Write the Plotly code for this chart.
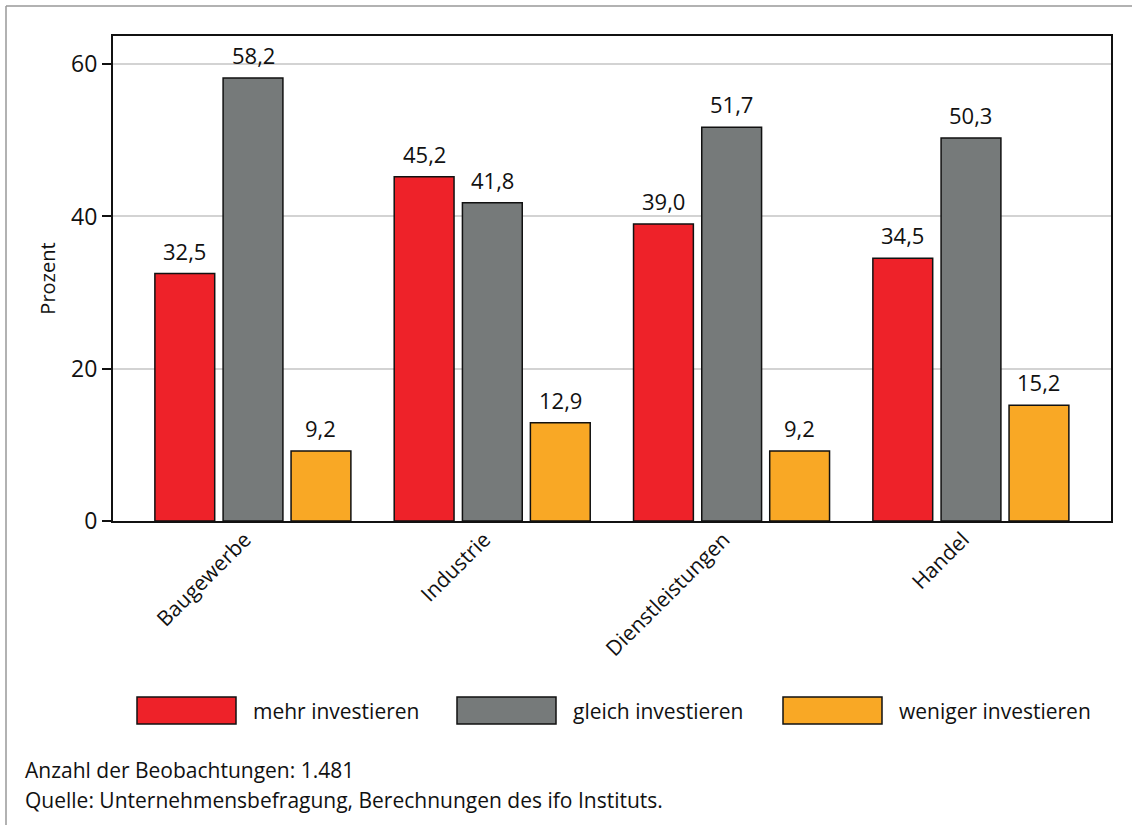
import plotly.graph_objects as go

categories = ["Baugewerbe", "Industrie", "Dienstleistungen", "Handel"]
series_names = ["mehr investieren", "gleich investieren", "weniger investieren"]
mehr = [32.5, 45.2, 39.0, 34.5]
gleich = [58.2, 41.8, 51.7, 50.3]
weniger = [9.2, 12.9, 9.2, 15.2]
y_ticks = [0, 20, 40, 60]
y_title = "Prozent"
notes = ["Anzahl der Beobachtungen: 1.481",
         "Quelle: Unternehmensbefragung, Berechnungen des ifo Instituts."]

colors = ["#EE2229", "#767A7A", "#F9A825"]
offsets = [-0.41, -0.125, 0.159]
BAR_W = 0.25
FONT = "Open Sans"
TXT = "#111111"

W, H = 1132, 825
L, R, T, B = 113, 21, 36, 304

fig = go.Figure()
xs = list(range(len(categories)))
annotations = []
for name, vals, col, off in zip(series_names, [mehr, gleich, weniger], colors, offsets):
    fig.add_trace(go.Bar(
        x=xs, y=vals, name=name, width=BAR_W, offset=off,
        marker=dict(color=col, line=dict(color=TXT, width=1.5)),
        showlegend=False, hoverinfo="x+y",
    ))
    for xi, v in zip(xs, vals):
        annotations.append(dict(x=xi + off + BAR_W / 2, y=v, xref="x", yref="y",
                                text=f"{v:.1f}".replace(".", ","), showarrow=False,
                                yanchor="bottom", yshift=6,
                                font=dict(family=FONT, size=22, color=TXT)))


def to_paper_x(p):
    return (p - L) / (W - L - R)


def to_paper_y(p):
    return (H - B - p) / (H - T - B)


shapes = []
# outer frame lines (top and left)
shapes.append(dict(type="line", xref="paper", yref="paper", layer="above",
                   x0=to_paper_x(6), x1=to_paper_x(W + 2),
                   y0=to_paper_y(6), y1=to_paper_y(6),
                   line=dict(color="#999999", width=1.5)))
shapes.append(dict(type="line", xref="paper", yref="paper", layer="above",
                   x0=to_paper_x(6), x1=to_paper_x(6),
                   y0=to_paper_y(6), y1=to_paper_y(H + 2),
                   line=dict(color="#999999", width=1.5)))

# legend
box_x = [137, 457, 783]
for bx, col, name in zip(box_x, colors, series_names):
    shapes.append(dict(type="rect", xref="paper", yref="paper",
                       x0=to_paper_x(bx), x1=to_paper_x(bx + 99),
                       y0=to_paper_y(724), y1=to_paper_y(697),
                       fillcolor=col, line=dict(color=TXT, width=1.5)))
    annotations.append(dict(xref="paper", yref="paper", x=to_paper_x(bx + 114),
                            y=to_paper_y(711), text=name, showarrow=False,
                            xanchor="left", yanchor="middle",
                            font=dict(family=FONT, size=21, color=TXT)))

for i, t in enumerate(notes):
    annotations.append(dict(xref="paper", yref="paper", x=to_paper_x(23),
                            y=to_paper_y(770 + 30 * i), text=t, showarrow=False,
                            xanchor="left", yanchor="middle",
                            font=dict(family=FONT, size=21, color=TXT)))

fig.update_layout(
    width=W, height=H,
    margin=dict(l=L, r=R, t=T, b=B),
    paper_bgcolor="white", plot_bgcolor="white",
    font=dict(family=FONT, size=20, color=TXT),
    shapes=shapes, annotations=annotations,
    xaxis=dict(range=[-0.585, 3.585], tickmode="array", tickvals=xs,
               ticktext=categories, tickangle=-45, ticks="",
               ticklabelshift=-8, ticklabelstandoff=-4,
               tickfont=dict(family=FONT, size=21, color=TXT),
               showline=True, linecolor=TXT, linewidth=2, mirror=True,
               showgrid=False, zeroline=False),
    yaxis=dict(range=[0, 63.7], tickmode="array", tickvals=y_ticks,
               ticks="outside", ticklen=9, tickwidth=1.5, tickcolor=TXT,
               tickfont=dict(family=FONT, size=23, color=TXT),
               showline=True, linecolor=TXT, linewidth=2, mirror=True,
               showgrid=True, gridcolor="#D3D3D3", gridwidth=2, zeroline=False,
               title=dict(text=y_title, standoff=10,
                          font=dict(family=FONT, size=20, color=TXT))),
)

fig.write_html("out.html", config={"displayModeBar": False},
               post_script="document.body.style.margin='0';")
